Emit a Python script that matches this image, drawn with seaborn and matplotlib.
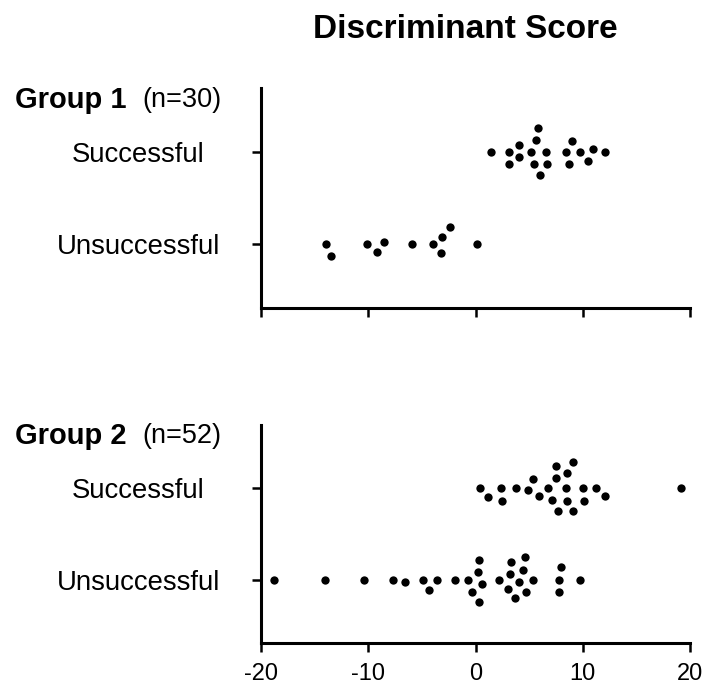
import numpy as np
import pandas as pd
import matplotlib
matplotlib.use("Agg")
import matplotlib.pyplot as plt
import seaborn as sns

# discriminant scores
g1_successful = [1.4, 3.1, 3.1, 4.1, 4.1, 5.2, 5.5, 5.8, 6.0, 5.6, 6.6, 6.7,
                 8.7, 8.4, 9.0, 9.7, 10.5, 11.0, 12.1]
g1_unsuccessful = [-13.5, -13.9, -10.1, -9.2, -8.5, -5.9, -4.0, -3.2, -3.1,
                   -2.4, 0.1]
g2_successful = [0.4, 1.2, 2.5, 2.4, 3.8, 4.9, 5.4, 5.9, 6.8, 7.1, 7.5, 8.4,
                 7.5, 8.5, 7.7, 8.5, 9.1, 9.1, 10.0, 10.1, 11.2, 12.1, 19.2]
g2_unsuccessful = [-18.8, -14.0, -10.4, -7.7, -6.6, -4.9, -3.6, -4.3, -1.9,
                   -0.7, 0.3, 0.3, -0.3, 0.6, 0.2, 3.3, 4.4, 5.4, 3.0, 4.1,
                   2.2, 3.2, 4.7, 3.7, 4.6, 8.0, 7.8, 7.8, 9.7]

outcomes = ['Successful', 'Unsuccessful']
groups = ['Group 1', 'Group 2']
group_n = ['(n=30)', '(n=52)']
xticks = [-20, -10, 0, 10, 20]

sns.set_style('ticks')
plt.rcParams['font.family'] = ['Liberation Sans', 'DejaVu Sans']
plt.rcParams['text.color'] = 'black'
plt.rcParams['xtick.color'] = 'black'
plt.rcParams['ytick.color'] = 'black'

df1 = pd.DataFrame({'Score': g1_successful + g1_unsuccessful,
                    'Outcome': ['Successful'] * len(g1_successful) + ['Unsuccessful'] * len(g1_unsuccessful)})
df2 = pd.DataFrame({'Score': g2_successful + g2_unsuccessful,
                    'Outcome': ['Successful'] * len(g2_successful) + ['Unsuccessful'] * len(g2_unsuccessful)})

fig = plt.figure(figsize=(7.03, 6.90), dpi=100)
ax1 = fig.add_axes([0.3713, 0.5536, 0.6102, 0.3188])
ax2 = fig.add_axes([0.3713, 0.0681, 0.6102, 0.3160])

for ax, df in [(ax1, df1), (ax2, df2)]:
    # white edge keeps a small gap between neighbouring dots, like the original
    sns.swarmplot(data=df, x='Score', y='Outcome', order=outcomes, orient='h',
                  color='black', size=7.3, linewidth=1.3, edgecolor='white', ax=ax)
    ax.set_xlim(-20, 20)
    ax.set_ylim(1.69, -0.69)
    ax.set_xticks(xticks)
    ax.set_xlabel('')
    ax.set_ylabel('')
    for side in ['top', 'right']:
        ax.spines[side].set_visible(False)
    for side in ['left', 'bottom']:
        ax.spines[side].set_linewidth(2.2)
        ax.spines[side].set_color('black')
    ax.tick_params(axis='both', width=1.8, length=6.5, color='black',
                   labelcolor='black')
    ax.tick_params(axis='y', labelsize=19.8, pad=82)
    ax.tick_params(axis='x', labelsize=17, pad=8)
    for lab in ax.get_yticklabels():
        lab.set_horizontalalignment('center')

ax1.set_xticklabels([])
ax2.set_xticklabels([str(t) for t in xticks])

fig.text(465 / 703, 1 - 30 / 690, 'Discriminant Score', fontsize=24,
         fontweight='bold', ha='center', va='center')

for i, ypix in enumerate([100, 436]):
    fig.text(15 / 703, 1 - ypix / 690, groups[i], fontsize=21,
             fontweight='bold', ha='left', va='center')
    fig.text(142 / 703, 1 - ypix / 690, group_n[i], fontsize=19.5,
             ha='left', va='center')

fig.savefig('out.png', dpi=100)
